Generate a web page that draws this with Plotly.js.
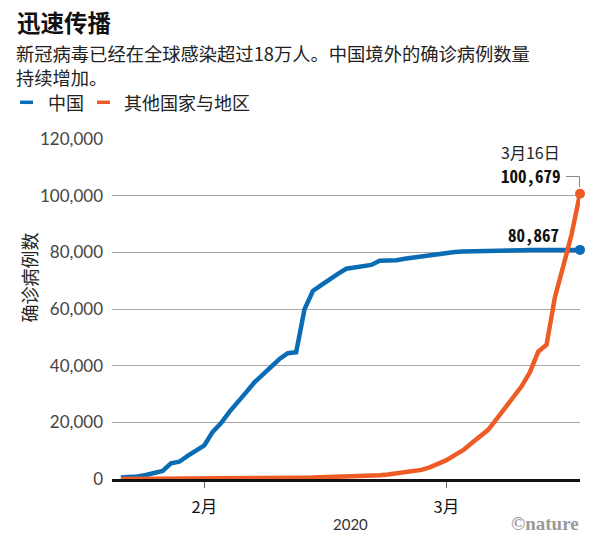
<!DOCTYPE html>
<html>
<head>
<meta charset="utf-8">
<script src="https://cdn.plot.ly/plotly-3.0.1.min.js"></script>
<style>
  html, body { margin: 0; padding: 0; background: #fff; }
  #chart { width: 600px; height: 540px; }
</style>
</head>
<body>
<div id="chart"></div>
<script>
// ---- data ----
const dates = [
  "2020-01-22","2020-01-23","2020-01-24","2020-01-25","2020-01-26","2020-01-27","2020-01-28","2020-01-29","2020-01-30","2020-01-31",
  "2020-02-01","2020-02-02","2020-02-03","2020-02-04","2020-02-05","2020-02-06","2020-02-07","2020-02-08","2020-02-09","2020-02-10",
  "2020-02-11","2020-02-12","2020-02-13","2020-02-14","2020-02-15","2020-02-16","2020-02-17","2020-02-18","2020-02-19","2020-02-20",
  "2020-02-21","2020-02-22","2020-02-23","2020-02-24","2020-02-25","2020-02-26","2020-02-27","2020-02-28","2020-02-29",
  "2020-03-01","2020-03-02","2020-03-03","2020-03-04","2020-03-05","2020-03-06","2020-03-07","2020-03-08","2020-03-09","2020-03-10",
  "2020-03-11","2020-03-12","2020-03-13","2020-03-14","2020-03-15","2020-03-16","2020-03-17"
];
const china = [
  548, 643, 920, 1406, 2075, 2877, 5509, 6087, 8141, 9802,
  11891, 16630, 19716, 23707, 27440, 30587, 34110, 36814, 39829, 42354,
  44386, 44759, 59895, 66358, 68413, 70513, 72434, 74211, 74619, 75077,
  75550, 77001, 77022, 77241, 77754, 78166, 78600, 78928, 79356,
  79932, 80136, 80261, 80386, 80537, 80651, 80695, 80735, 80754, 80778,
  80793, 80813, 80824, 80844, 80856, 80862, 80867
];
const others = [
  4, 7, 11, 21, 28, 43, 50, 69, 79, 93,
  125, 147, 157, 171, 191, 203, 215, 285, 315, 330,
  414, 424, 469, 486, 550, 638, 722, 836, 941, 1033,
  1135, 1291, 1601, 1960, 2305, 2645, 3210, 4136, 5196,
  6657, 8439, 10173, 12583, 14738, 17349, 21110, 25066, 29012, 32722,
  37695, 44944, 47411, 64248, 75117, 86443, 100679
];
const seriesNames = ["中国", "其他国家与地区"];
const xTickVals = ["2020-02-01", "2020-03-01"];
const xTickText = ["2月", "3月"];
const yTickVals = [0, 20000, 40000, 60000, 80000, 100000, 120000];
const lastDateLabel = "3月16日";

// ---- styling ----
const BLUE = "#0b6cb6";
const ORANGE = "#ef5b25";
const CJK = "Noto Sans CJK SC";
const L = 112, R = 580, T = 139, B = 479;
const X_RANGE = ["2020-01-20 22:30", "2020-03-17"];
const px = x => (x - L) / (R - L);
const py = y => (B - y) / (B - T);
const n = dates.length;
const endSizes = dates.map((d, i) => (i === n - 1 ? 10 : 0));
const fmt = v => v.toLocaleString("en-US");

const traces = [
  {
    x: dates, y: china, name: seriesNames[0], type: "scatter", mode: "lines+markers",
    line: { color: BLUE, width: 4.5 },
    marker: { color: BLUE, size: endSizes, opacity: 1, line: { width: 0 } },
    cliponaxis: false, hoverinfo: "skip"
  },
  {
    x: dates, y: others, name: seriesNames[1], type: "scatter", mode: "lines+markers",
    line: { color: ORANGE, width: 4.5 },
    marker: { color: ORANGE, size: endSizes, opacity: 1, line: { width: 0 } },
    cliponaxis: false, hoverinfo: "skip"
  }
];

const ann = (text, x, y, opts) => Object.assign({
  text, x: px(x), y: py(y), xref: "paper", yref: "paper",
  showarrow: false, xanchor: "left", yanchor: "middle", align: "left",
  font: { family: CJK, size: 18, color: "#222" }
}, opts || {});

const annotations = [
  ann("迅速传播", 14.5, 22, { font: { family: CJK, size: 23.5, color: "#111", weight: 700 } }),
  ann("新冠病毒已经在全球感染超过18万人。中国境外的确诊病例数量<br>持续增加。", 14, 64.6,
      { font: { family: CJK, size: 18.3, color: "#222" } }),
  ann(seriesNames[0], 46, 102, {}),
  ann(seriesNames[1], 122, 102, {}),
  ann("确诊病例数", 28, 277.5, { xanchor: "center", textangle: -90 }),
  ann("2020", 350, 524, { xanchor: "center", font: { family: "Lato", size: 15, color: "#333" } }),
  ann("©nature", 581, 523, { xanchor: "right",
      font: { family: "Liberation Serif", size: 19, color: "#9a9a9a", weight: 700 } }),
  ann(lastDateLabel, 530, 151.5, { xanchor: "center", font: { family: CJK, size: 16, color: "#222" } }),
  ann(fmt(others[n - 1]), 563, 176, { xanchor: "right",
      font: { family: "Noto Sans Mono CJK SC, " + CJK, size: 17, color: "#111", weight: 700 } }),
  ann(fmt(china[n - 1]), 561, 234.5, { xanchor: "right",
      font: { family: "Noto Sans Mono CJK SC, " + CJK, size: 17, color: "#111", weight: 700 } })
];

const seg = (x0, y0, x1, y1, color, width) => ({
  type: "line", xref: "paper", yref: "paper",
  x0: px(x0), y0: py(y0), x1: px(x1), y1: py(y1),
  line: { color, width }
});
const shapes = [
  seg(20, 102.3, 33, 102.3, BLUE, 3.5),
  seg(97, 102.3, 110, 102.3, ORANGE, 3.5),
  seg(566, 176.5, 579.5, 176.5, "#888", 1),
  seg(579.5, 176.5, 579.5, 187, "#888", 1)
];

const layout = {
  width: 600, height: 540,
  margin: { l: L, r: 600 - R, t: T, b: 540 - B, pad: 0 },
  paper_bgcolor: "#fff", plot_bgcolor: "#fff",
  showlegend: false,
  xaxis: {
    type: "date", range: X_RANGE,
    tickmode: "array", tickvals: xTickVals, ticktext: xTickText,
    ticks: "outside", ticklen: 6, tickwidth: 1, tickcolor: "#666",
    ticklabelstandoff: 6,
    showgrid: false, zeroline: false,
    showline: true, linecolor: "#111", linewidth: 2.5,
    tickfont: { family: CJK, size: 16.5, color: "#111" },
    fixedrange: true
  },
  yaxis: {
    range: [0, 120000], tickmode: "array", tickvals: yTickVals, tickformat: ",d",
    showgrid: true, gridcolor: "#a8a8a8", gridwidth: 1,
    zeroline: false, showline: false, ticks: "",
    ticklabelstandoff: 8,
    tickfont: { family: "Lato", size: 17, color: "#444" },
    fixedrange: true
  },
  annotations, shapes
};

Plotly.newPlot("chart", traces, layout, { displayModeBar: false, staticPlot: true });
</script>
</body>
</html>
